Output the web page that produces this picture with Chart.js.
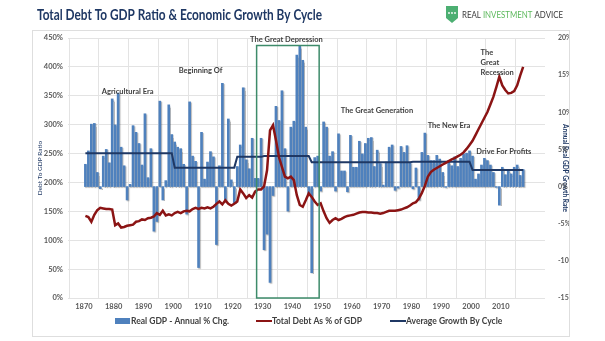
<!DOCTYPE html>
<html>
<head>
<meta charset="utf-8">
<script src="https://cdn.jsdelivr.net/npm/chart.js@4.4.0/dist/chart.umd.min.js"></script>
<style>
  html, body { margin: 0; padding: 0; background: #fff; }
  canvas { display: block; }
</style>
</head>
<body>
<canvas id="grafico" width="605" height="341"></canvas>
<script>
/* =====================================================
   Deuda total / PIB y crecimiento por ciclo, 1870-2017
===================================================== */

const PRIMER_ANIO = 1870

// Crecimiento real del PIB, % anual (eje derecho)
const PIB_CRECIMIENTO = [
  3.0, 4.8, 8.4, 8.5, 1.9, -0.3, 4.1, 5.0, 3.2, 11.8,      // 1870
  8.3, 12.6, 5.3, 2.8, -1.8, 0.3, 8.2, 7.3, 5.8, 2.9,      // 1880
  9.8, 1.2, 5.1, -6.0, -4.7, 11.5, -1.8, 0.8, 11.0, 7.0,   // 1890
  6.0, 5.3, 5.1, 3.0, -3.7, 11.4, 4.1, 3.4, -10.9, 7.3,    // 1900
  1.0, 3.3, 4.7, 4.0, -7.8, 2.8, 13.9, -2.0, 9.1, 0.9,     // 1910
  -2.2, 2.7, 5.6, 13.3, 3.6, 2.4, 6.5, 1.1, 1.1, 6.5,      // 1920
  -8.5, -6.4, -12.9, -1.2, 10.8, 8.9, 12.9, 5.1, -3.3, 8.0, // 1930
  8.8, 17.7, 18.9, 17.0, 8.0, -1.0, -11.6, 3.9, 4.1, -0.6, // 1940
  8.7, 8.0, 4.1, 4.7, -0.6, 7.1, 2.1, 2.1, -0.7, 6.9,      // 1950
  2.6, 2.6, 6.1, 4.4, 5.8, 6.5, 6.6, 2.7, 4.9, 3.1,        // 1960
  0.2, 3.3, 5.3, 5.6, -0.5, -0.2, 5.4, 4.6, 5.5, 3.2,      // 1970
  -0.3, 2.5, -1.8, 4.6, 7.2, 4.2, 3.5, 3.5, 4.2, 3.7,      // 1980
  1.9, -0.1, 3.5, 2.8, 4.0, 2.7, 3.8, 4.4, 4.5, 4.8,       // 1990
  4.1, 1.0, 1.7, 2.9, 3.8, 3.5, 2.9, 1.9, -0.1, -2.5,      // 2000
  2.6, 1.6, 2.2, 1.7, 2.6, 2.9, 1.5, 2.3                   // 2010
]

// Deuda total como % del PIB (eje izquierdo)
const DEUDA_PIB = [
  142, 140, 132, 144, 152, 156, 155, 154, 154, 153,
  126, 129, 122, 123, 125, 126, 127, 132, 133, 136,
  135, 138, 139, 141, 147, 144, 151, 143, 145, 143,
  147, 149, 147, 150, 151, 150, 154, 156, 154, 156,
  155, 157, 155, 158, 163, 167, 162, 169, 163, 160,
  163, 167, 188, 181, 173, 178, 174, 184, 188, 188,
  193, 221, 290, 299, 273, 244, 227, 210, 207, 210,
  204, 178, 161, 158, 169, 181, 175, 167, 161, 164,
  150, 138, 130, 135, 138, 135, 137, 140, 142, 143,
  144, 146, 148, 149, 149, 148, 148, 147, 147, 146,
  147, 149, 151, 151, 151, 152, 153, 155, 157, 160,
  164, 166, 172, 182, 194, 210, 218, 222, 225, 228,
  231, 234, 237, 240, 242, 245, 248, 252, 258, 265,
  272, 282, 292, 302, 312, 322, 335, 348, 365, 383,
  368, 360, 354, 355, 358, 368, 385, 400
]

// Crecimiento promedio de cada ciclo (inicio del ciclo y promedio %)
const CICLO_INICIO   = [1870, 1900, 1921, 1930, 1946, 1980, 2000]
const CICLO_PROMEDIO = [4.5, 2.55, 4.0, 4.1, 3.27, 3.35, 2.24]

// Etiquetas de época: texto, año, nivel en el eje izquierdo
const EPOCAS = [
  ["Agricultural Era", 1884.7, 358],
  ["Beginning Of", 1909.2, 394],
  ["The Great Depression", 1938.0, 448],
  ["The Great Generation", 1968.4, 325],
  ["The New Era", 1992.6, 299],
  ["Drive For Profits", 2011.0, 254],
]
const RECESION = ["The", "Great", "Recession"]
const RECESION_POS = [2003.2, 425]

// Recuadro de la Gran Depresión (años)
const RECUADRO = [1928, 1949]

const ANIO_TICKS = [1870, 1880, 1890, 1900, 1910, 1920, 1930, 1940, 1950, 1960, 1970, 1980, 1990, 2000, 2010]

const TITULO = "Total Debt To GDP Ratio & Economic Growth By Cycle"
const LOGO = [["REAL ", "#3a3a3a"], ["INVESTMENT", "#5cb85c"], [" ADVICE", "#3a3a3a"]]

const ANIOS = PIB_CRECIMIENTO.map((_, i) => PRIMER_ANIO + i)
const promedioCiclo = anio => {
  let k = 0
  CICLO_INICIO.forEach((ini, j) => { if (anio >= ini) k = j })
  return CICLO_PROMEDIO[k]
}

// cada año ocupa su franja entre marcas: la barra va al centro
const pares = serie => ANIOS.map((a, i) => ({ x: a + 0.5, y: serie[i] }))

const FUENTE = "Lato, 'Open Sans', sans-serif"

// texto comprimido a un ancho fijo
function textoAncho(ctx, partes, x, y, ancho) {
  const total = partes.reduce((s, [t]) => s + ctx.measureText(t).width, 0)
  ctx.save()
  ctx.translate(x, y)
  ctx.scale(ancho / total, 1)
  let dx = 0
  partes.forEach(([t, c]) => {
    ctx.fillStyle = c
    ctx.fillText(t, dx, 0)
    dx += ctx.measureText(t).width
  })
  ctx.restore()
}

/* =====================================================
   Adornos: marco, título, logo, recuadro, épocas, leyenda
===================================================== */
const adornos = {
  id: "adornos",
  beforeDraw(chart) {
    const ctx = chart.ctx
    ctx.save()
    ctx.fillStyle = "#fff"
    ctx.fillRect(0, 0, chart.width, chart.height)
    ctx.strokeStyle = "#dedede"
    ctx.lineWidth = 1
    ctx.strokeRect(32.5, 30.5, 537, 306)
    ctx.restore()
  },
  // sombra suave bajo las barras
  beforeDatasetDraw(chart, args) {
    if (args.index !== 0) return
    const ctx = chart.ctx
    ctx.save()
    ctx.shadowColor = "rgba(0,0,0,0.28)"
    ctx.shadowOffsetX = 1
    ctx.shadowOffsetY = 1
    ctx.shadowBlur = 1
  },
  afterDatasetDraw(chart, args) {
    if (args.index !== 0) return
    chart.ctx.restore()
  },
  afterDraw(chart) {
    const { ctx, scales: { x, yL } } = chart
    ctx.save()
    ctx.textBaseline = "middle"

    // título
    ctx.font = "bold 16px " + FUENTE
    textoAncho(ctx, [[TITULO, "#1f3864"]], 37, 15, 285)

    // logo
    ctx.fillStyle = "#4caf72"
    ctx.beginPath()
    ctx.moveTo(446, 6)
    ctx.lineTo(458, 6)
    ctx.lineTo(458, 18)
    ctx.lineTo(452, 23)
    ctx.lineTo(446, 18)
    ctx.closePath()
    ctx.fill()
    ctx.fillStyle = "#fff"
    ;[449, 452, 455].forEach(cx => { ctx.beginPath(); ctx.arc(cx, 13, 0.9, 0, Math.PI * 2); ctx.fill() })
    ctx.font = "10px " + FUENTE
    textoAncho(ctx, LOGO, 462, 15, 101)

    // recuadro de la Gran Depresión
    ctx.strokeStyle = "#3d8b6a"
    ctx.lineWidth = 1.5
    const bx0 = x.getPixelForValue(RECUADRO[0])
    const bx1 = x.getPixelForValue(RECUADRO[1])
    const by0 = yL.getPixelForValue(437)
    const by1 = yL.getPixelForValue(0)
    ctx.strokeRect(bx0, by0, bx1 - bx0, by1 - by0)

    // épocas
    ctx.font = "bold 7.5px " + FUENTE
    ctx.fillStyle = "#404040"
    ctx.textAlign = "center"
    EPOCAS.forEach(([t, a, v]) => ctx.fillText(t, x.getPixelForValue(a), yL.getPixelForValue(v)))
    ctx.textAlign = "left"
    RECESION.forEach((t, i) => {
      ctx.fillText(t, x.getPixelForValue(RECESION_POS[0]), yL.getPixelForValue(RECESION_POS[1]) + i * 10)
    })

    // leyenda
    const posX = [115, 256, 390]
    const ly = 321
    ctx.font = "bold 8.5px " + FUENTE
    chart.data.datasets.forEach((ds, i) => {
      const x0 = posX[i]
      if (ds.type === "bar") {
        ctx.fillStyle = ds.backgroundColor
        ctx.fillRect(x0, ly - 3, 15, 6)
      } else {
        ctx.strokeStyle = ds.borderColor
        ctx.lineWidth = 2
        ctx.beginPath()
        ctx.moveTo(x0, ly)
        ctx.lineTo(x0 + 16, ly)
        ctx.stroke()
      }
      ctx.fillStyle = "#404040"
      ctx.fillText(ds.label, x0 + 16, ly)
    })
    ctx.restore()
  }
}

new Chart(document.getElementById("grafico"), {
  data: {
    datasets: [
      {
        type: "bar",
        label: "Real GDP - Annual % Chg.",
        data: pares(PIB_CRECIMIENTO),
        yAxisID: "yR",
        backgroundColor: "#4f81bd",
        barThickness: 2,
        order: 3,
      },
      {
        type: "line",
        label: "Total Debt As % of GDP",
        data: pares(DEUDA_PIB),
        yAxisID: "yL",
        borderColor: "#8b1414",
        borderWidth: 2.5,
        pointRadius: 0,
        tension: 0,
        order: 1,
      },
      {
        type: "line",
        label: "Average Growth By Cycle",
        data: pares(ANIOS.map(promedioCiclo)),
        yAxisID: "yR",
        borderColor: "#1f3864",
        borderWidth: 2,
        pointRadius: 0,
        tension: 0,
        order: 2,
      },
    ]
  },
  options: {
    responsive: false,
    animation: false,
    layout: { padding: { left: 33, right: 36, top: 38, bottom: 23 } },
    plugins: { legend: { display: false }, tooltip: { enabled: false } },
    scales: {
      x: {
        type: "linear",
        min: 1870,
        max: 2019.5,
        afterBuildTicks: s => { s.ticks = ANIO_TICKS.map(v => ({ value: v })) },
        afterFit: s => { s.height = 20 },
        ticks: {
          callback: v => String(v),
          color: "#595959",
          font: { family: FUENTE, size: 7.5, weight: "bold" },
          padding: 4,
          maxRotation: 0,
        },
        grid: { color: "#e3e3e3", drawTicks: false },
        border: { display: false },
      },
      yL: {
        position: "left",
        min: 0,
        max: 450,
        afterFit: s => { s.width = 35 },
        ticks: {
          stepSize: 50,
          callback: v => v + "%",
          color: "#595959",
          font: { family: FUENTE, size: 7.5, weight: "bold" },
          padding: 5,
        },
        title: {
          display: true,
          text: "Debt To GDP Ratio",
          color: "#1f3864",
          font: { family: FUENTE, size: 6.5 },
          padding: { top: 3, bottom: 0 },
        },
        grid: { color: "#e3e3e3", drawTicks: false },
        border: { display: false },
      },
      yR: {
        position: "right",
        min: -15,
        max: 20,
        afterFit: s => { s.width = 24 },
        ticks: {
          stepSize: 5,
          callback: v => v + "%",
          color: "#595959",
          font: { family: FUENTE, size: 7, weight: "bold" },
          padding: 5,
        },
        title: {
          display: true,
          text: "Annual Real GDP Growth Rate",
          color: "#1f3864",
          font: { family: FUENTE, size: 6.5, weight: "bold" },
          padding: { top: 0, bottom: 1 },
        },
        grid: { display: false },
        border: { display: false },
      },
    }
  },
  plugins: [adornos]
})
</script>
</body>
</html>
